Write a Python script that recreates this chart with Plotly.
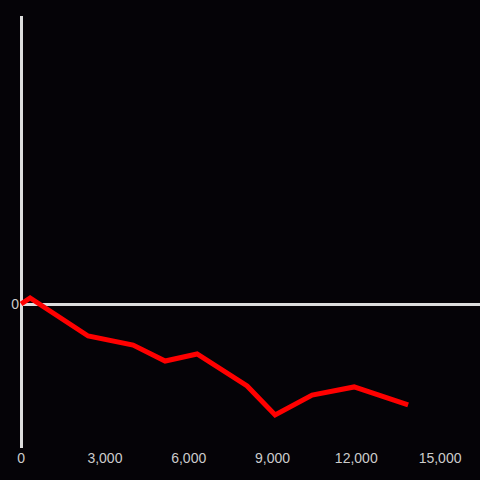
import plotly.graph_objects as go

x_vals = [0, 322, 2399, 4010, 5156, 6301, 8092, 9094, 10419, 11923, 13856]
y_vals = [0, 4.2, -22.2, -28.5, -39.6, -34.7, -56.9, -77.1, -63.2, -57.6, -70.1]
x_ticks = [0, 3000, 6000, 9000, 12000, 15000]
x_ticktext = ["0", "3,000", "6,000", "9,000", "12,000", "15,000"]

fig = go.Figure(go.Scatter(x=x_vals, y=y_vals, mode="lines",
                           line=dict(color="#ff0000", width=5)))

fig.update_layout(
    width=480, height=480,
    margin=dict(l=20, r=0, t=16, b=32),
    paper_bgcolor="#050307", plot_bgcolor="#050307",
    showlegend=False,
    font=dict(family="Liberation Sans, Arial, sans-serif", size=14, color="#cccccc"),
)
fig.update_xaxes(range=[-40, 16430], tickvals=x_ticks, ticktext=x_ticktext,
                 showgrid=False, zeroline=True, zerolinecolor="#dddddd", zerolinewidth=3,
                 showline=False, ticks="")
fig.update_yaxes(range=[-100, 200], tickvals=[0], ticktext=["0"],
                 showgrid=False, zeroline=True, zerolinecolor="#dddddd", zerolinewidth=3,
                 showline=False, ticks="")

fig.write_html("out.html", config={"displayModeBar": False},
               post_script="document.body.style.margin='0';document.body.style.background='#050307';document.body.style.overflow='hidden';")
